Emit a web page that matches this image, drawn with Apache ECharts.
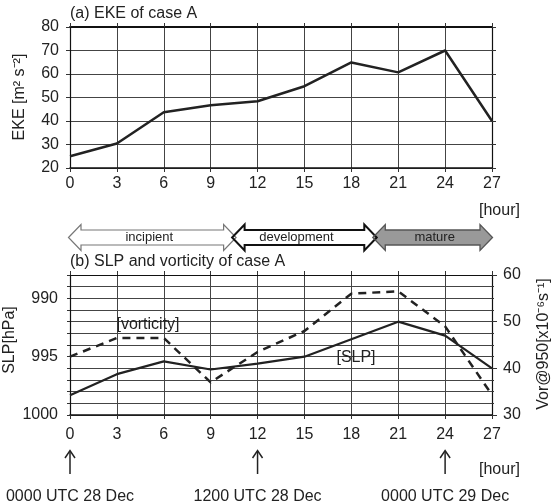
<!DOCTYPE html>
<html>
<head>
<meta charset="utf-8">
<script src="https://cdn.jsdelivr.net/npm/echarts@6/dist/echarts.min.js"></script>
<style>
	html, body { margin: 0; padding: 0; background: #fff; }
	#chart { width: 552px; height: 504px; }
</style>
</head>
<body>
<div id="chart"></div>
<script>
	'use strict'
	/*--data--*/
	var hours = [0, 3, 6, 9, 12, 15, 18, 21, 24, 27];
	var ekeValues = [25, 30.4, 43.7, 46.7, 48.4, 54.8, 64.9, 60.7, 70, 40];
	var slpValues = [998.3, 996.5, 995.4, 996.1, 995.6, 995.0, 993.5, 992.0, 993.2, 996.0];
	var vorValues = [42.5, 46.5, 46.5, 37, 43.5, 48, 56, 56.5, 49, 34.3];
	var phaseLabels = ['incipient', 'development', 'mature'];
	var phaseBounds = [0, 10.5, 19.5, 27];
	var dateHours = [0, 12, 24];
	var dateLabels = ['0000 UTC 28 Dec', '1200 UTC 28 Dec', '0000 UTC 29 Dec'];

	var FONT = '"Liberation Sans", Arial, sans-serif';
	var INK = '#222';
	var GRID = '#444';

	function pairs(ys) {
		return hours.map(function(h, i) { return [h, ys[i]]; });
	}

	function xAxisPair(grid) {
		return [{
			gridIndex: grid, type: 'value', min: 0, max: 27, interval: 3, position: 'bottom',
			axisLine: { show: true, onZero: false, lineStyle: { color: '#111', width: 1.5 } },
			axisTick: { show: true, length: 4, lineStyle: { color: '#333' } },
			axisLabel: { fontSize: 16, color: INK, fontFamily: FONT, margin: grid === 0 ? 8 : 12 },
			splitLine: { show: true, lineStyle: { color: GRID, width: 1 } }
		}, {
			gridIndex: grid, type: 'value', min: 0, max: 27, interval: 3, position: 'top',
			axisLine: { show: true, onZero: false, lineStyle: { color: '#111', width: grid === 0 ? 1.8 : 1 } },
			axisTick: { show: true, length: 4, lineStyle: { color: '#333' } },
			axisLabel: { show: false },
			splitLine: { show: false }
		}];
	}

	var chart = echarts.init(document.getElementById('chart'), null, { renderer: 'canvas' });
	var option = {
		animation: false,
		grid: [
			{ left: 70, width: 422, top: 27, height: 141 },
			{ left: 70, width: 422, top: 275, height: 140 }
		],
		xAxis: xAxisPair(0).concat(xAxisPair(1)),
		yAxis: [{
			gridIndex: 0, type: 'value', min: 20, max: 80, interval: 10, position: 'left',
			axisLine: { show: true, onZero: false, lineStyle: { color: '#111', width: 1.2 } },
			axisTick: { show: true, length: 4, lineStyle: { color: '#333' } },
			axisLabel: { fontSize: 16, color: INK, fontFamily: FONT, margin: 11 },
			splitLine: { show: true, lineStyle: { color: GRID, width: 1 } }
		}, {
			gridIndex: 0, type: 'value', min: 20, max: 80, interval: 10, position: 'right',
			axisLine: { show: true, onZero: false, lineStyle: { color: '#111', width: 1.2 } },
			axisTick: { show: true, length: 4, lineStyle: { color: '#333' } },
			axisLabel: { show: false },
			splitLine: { show: false }
		}, {
			gridIndex: 1, type: 'value', min: 988, max: 1000, interval: 1, inverse: true, position: 'left',
			axisLine: { show: true, onZero: false, lineStyle: { color: '#111', width: 1.2 } },
			axisTick: { show: true, length: 3, lineStyle: { color: '#333' } },
			axisLabel: {
				fontSize: 16, color: INK, fontFamily: FONT, margin: 12,
				formatter: function(v) { return v % 5 === 0 ? String(v) : ''; }
			},
			splitLine: { show: true, lineStyle: { color: GRID, width: 1 } }
		}, {
			gridIndex: 1, type: 'value', min: 30, max: 60, interval: 10, position: 'right',
			axisLine: { show: true, onZero: false, lineStyle: { color: '#111', width: 1.2 } },
			axisTick: { show: true, length: 5, lineStyle: { color: '#333' } },
			minorTick: { show: true, splitNumber: 4, length: 2, lineStyle: { color: '#333' } },
			axisLabel: { fontSize: 16, color: INK, fontFamily: FONT, margin: 11 },
			splitLine: { show: false }
		}],
		series: [{
			name: 'EKE', type: 'line', xAxisIndex: 0, yAxisIndex: 0,
			data: pairs(ekeValues), symbol: 'none',
			lineStyle: { color: INK, width: 2.5 }
		}, {
			name: 'SLP', type: 'line', xAxisIndex: 2, yAxisIndex: 2,
			data: pairs(slpValues), symbol: 'none',
			lineStyle: { color: INK, width: 2.2 }
		}, {
			name: 'vorticity', type: 'line', xAxisIndex: 2, yAxisIndex: 3,
			data: pairs(vorValues), symbol: 'none',
			lineStyle: { color: INK, width: 2.5, type: [8, 6] }
		}]
	};
	chart.setOption(option);

	/*--graphic overlay--*/
	function px(h) { return chart.convertToPixel({ xAxisIndex: 0 }, h); }
	function txt(x, y, s, size, align, rot) {
		return {
			type: 'text', x: x, y: y, rotation: rot || 0, z: 100,
			style: { text: s, fontSize: size, fontFamily: FONT, fill: INK, align: align || 'left', verticalAlign: 'middle' }
		};
	}
	function arrowPoints(x1, x2, cy) {
		var h = 12.5, bh = 7.5, hh = 13;
		return [[x1, cy], [x1 + h, cy - hh], [x1 + h, cy - bh], [x2 - h, cy - bh], [x2 - h, cy - hh], [x2, cy],
			[x2 - h, cy + hh], [x2 - h, cy + bh], [x1 + h, cy + bh], [x1 + h, cy + hh]];
	}

	var cy = 237.5;
	var b = phaseBounds.map(px);
	var spans = [[b[0] - 1.5, b[1] + 2], [b[1] - 2, b[2] + 2], [b[2] - 2, b[3] + 0.5]];
	var labelShift = [-3, -8, 2];
	var fills = ['#fff', '#fff', '#999'];
	var strokes = ['#777', '#111', '#555'];
	var widths = [1.2, 2, 1.3];
	var g = [];
	spans.forEach(function(s, i) {
		g.push({ type: 'polygon', z: 50, shape: { points: arrowPoints(s[0], s[1], cy) }, style: { fill: fills[i], stroke: null } });
	});
	spans.forEach(function(s, i) {
		g.push({ type: 'polygon', z: 51, shape: { points: arrowPoints(s[0], s[1], cy) }, style: { fill: null, stroke: strokes[i], lineWidth: widths[i] } });
		g.push(txt((s[0] + s[1]) / 2 + labelShift[i], cy, phaseLabels[i], 13, 'center'));
	});

	dateHours.forEach(function(h, i) {
		var x = px(h);
		g.push({ type: 'polyline', z: 50, shape: { points: [[x, 474], [x, 451]] }, style: { stroke: INK, lineWidth: 1.5, fill: null } });
		g.push({ type: 'polyline', z: 50, shape: { points: [[x - 5, 458], [x, 450.5], [x + 5, 458]] }, style: { stroke: INK, lineWidth: 1.5, fill: null } });
		g.push(txt(x, 497, dateLabels[i], 16, 'center'));
	});

	g.push(txt(70, 14, '(a) EKE of case A', 16));
	g.push(txt(70, 262, '(b) SLP and vorticity of case A', 16));
	g.push(txt(479, 211, '[hour]', 16));
	g.push(txt(479, 470, '[hour]', 16));
	g.push(txt(148, 325, '[vorticity]', 16, 'center'));
	g.push(txt(356, 358, '[SLP]', 16, 'center'));
	g.push(txt(20, 97, 'EKE [m² s⁻²]', 16, 'center', Math.PI / 2));
	g.push(txt(10, 340, 'SLP[hPa]', 16, 'center', Math.PI / 2));
	g.push(txt(544, 344, 'Vor@950[x10⁻⁶s⁻¹]', 16, 'center', Math.PI / 2));

	chart.setOption({ graphic: g });
</script>
</body>
</html>
